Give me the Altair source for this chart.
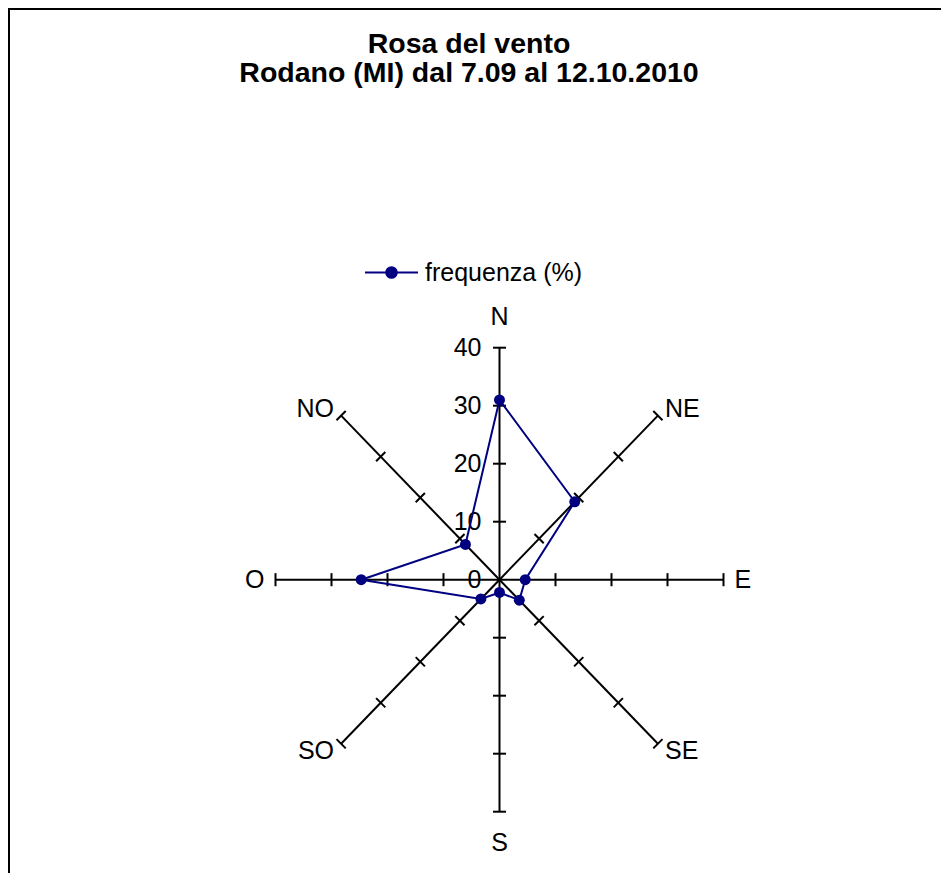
import altair as alt
import pandas as pd

# ---------------- data ----------------
DIRECTIONS = ["N", "NE", "E", "SE", "S", "SO", "O", "NO"]
ANGLES = [0, 45, 90, 135, 180, 225, 270, 315]
FREQUENZA = [31.0, 19.0, 4.6, 5.0, 2.2, 4.7, 24.7, 8.6]
AXIS_MAX = 40
TICK_VALUES = [10, 20, 30, 40]
AXIS_LABELS = [0, 10, 20, 30, 40]
SERIES = "frequenza (%)"
TITLE_LINES = ["Rosa del vento", "Rodano (MI) dal 7.09 al 12.10.2010"]

# ---------------- layout ----------------
W, H = 933, 865
CX, CY = 491.5, 571.7       # centre of the rose in chart pixels
PXX, PXY = 5.6, 5.8         # pixels per unit (x, y)
FONT = "Liberation Sans"
NAVY = "#000080"

xscale = alt.Scale(domain=[-CX / PXX, (W - CX) / PXX], nice=False, zero=False)
yscale = alt.Scale(domain=[-(H - CY) / PXY, CY / PXY], nice=False, zero=False)

# series table (closed polygon)
n = len(DIRECTIONS)
series_df = pd.DataFrame({
    "dir": DIRECTIONS + [DIRECTIONS[0]],
    "ang": ANGLES + [ANGLES[0]],
    "val": FREQUENZA + [FREQUENZA[0]],
    "ord": list(range(n + 1)),
    "serie": [SERIES] * (n + 1),
})
spoke_df = pd.DataFrame({"dir": DIRECTIONS, "ang": ANGLES})
tick_df = pd.DataFrame([{"ang": a, "r": r} for a in ANGLES for r in TICK_VALUES])
lab_df = pd.DataFrame({"v": AXIS_LABELS})

RAD = "PI/180"

def X(field):
    return alt.X(field, type="quantitative", scale=xscale, axis=None)

def Y(field):
    return alt.Y(field, type="quantitative", scale=yscale, axis=None)

# spokes
spokes = alt.Chart(spoke_df).transform_calculate(
    x0="0", y0="0",
    xe=f"{AXIS_MAX}*sin(datum.ang*{RAD})",
    ye=f"{AXIS_MAX}*cos(datum.ang*{RAD})",
).mark_rule(color="black", strokeWidth=2).encode(
    x=X("x0"), y=Y("y0"), x2="xe:Q", y2="ye:Q"
)

# tick marks (perpendicular to each spoke)
ticks = alt.Chart(tick_df).transform_calculate(
    tx=f"datum.r*sin(datum.ang*{RAD})",
    ty=f"datum.r*cos(datum.ang*{RAD})",
).mark_point(shape="stroke", color="black", strokeWidth=2, size=170,
             filled=False, opacity=1).encode(
    x=X("tx"), y=Y("ty"), angle=alt.Angle("ang:Q", scale=None)
)

# value labels along N axis
vlabels = alt.Chart(lab_df).mark_text(
    align="right", baseline="middle", dx=-18, fontSize=25, font=FONT, color="black"
).encode(x=alt.X(datum=0, type="quantitative", scale=xscale, axis=None),
         y=Y("v"), text=alt.Text("v:Q", format="d"))

# direction labels
dir_base = alt.Chart(spoke_df).transform_calculate(
    s=f"sin(datum.ang*{RAD})", c=f"cos(datum.ang*{RAD})"
).transform_calculate(
    k="abs(datum.s)<0.1 ? 31 : (abs(datum.c)<0.1 ? 11 : 10)"
).transform_calculate(
    lx=f"{AXIS_MAX}*datum.s + datum.k*datum.s/{PXX}",
    ly=f"{AXIS_MAX}*datum.c + datum.k*datum.c/{PXY}",
)
def dir_layer(cond, align):
    return dir_base.transform_filter(cond).mark_text(
        align=align, baseline="middle", fontSize=25, font=FONT, color="black"
    ).encode(x=X("lx"), y=Y("ly"), text="dir:N")

dlabels = [
    dir_layer("datum.s > 0.1", "left"),
    dir_layer("datum.s < -0.1", "right"),
    dir_layer("abs(datum.s) <= 0.1", "center"),
]

# data polygon
sdata = alt.Chart(series_df).transform_calculate(
    px=f"datum.val*sin(datum.ang*{RAD})",
    py=f"datum.val*cos(datum.ang*{RAD})",
)
line = sdata.mark_line(color=NAVY, strokeWidth=2).encode(
    x=X("px"), y=Y("py"), order="ord:Q"
)
LEGEND_SYMBOL = ("M-1,0L1,0M-0.2,0A0.2,0.2,0,1,1,0.2,0"
                 "A0.2,0.2,0,1,1,-0.2,0Z")
points = sdata.transform_filter(f"datum.ord < {n}").mark_point(
    filled=True, size=120, opacity=1
).encode(
    x=X("px"), y=Y("py"),
    color=alt.Color("serie:N", scale=alt.Scale(domain=[SERIES], range=[NAVY]),
                    legend=alt.Legend(
                        title=None, orient="none", legendX=356, legendY=237,
                        symbolType=LEGEND_SYMBOL, symbolSize=2809,
                        symbolStrokeWidth=2, symbolStrokeColor=NAVY,
                        symbolFillColor=NAVY, symbolOpacity=1,
                        labelFontSize=25, labelFont=FONT, labelColor="black",
                        labelOffset=6, padding=0)),
)

# title (two lines)
title_df = pd.DataFrame({"t": TITLE_LINES, "i": [0, 1]})
title = alt.Chart(title_df).transform_calculate(
    ty="45 + datum.i*29"
).mark_text(align="center", baseline="alphabetic", fontSize=28.5,
            fontWeight="bold", font=FONT, color="black").encode(
    x=alt.value(461), y=alt.Y("ty:Q", scale=None), text="t:N"
)

# outer frame (top and left edges visible)
frame_df = pd.DataFrame({"f": [0]})
frame_top = alt.Chart(frame_df).mark_rule(color="black", strokeWidth=2).encode(
    x=alt.value(0), x2=alt.value(W), y=alt.value(1))
frame_left = alt.Chart(frame_df).mark_rule(color="black", strokeWidth=2).encode(
    x=alt.value(1), y=alt.value(0), y2=alt.value(H))

chart = alt.layer(
    frame_top, frame_left, title, spokes, ticks, vlabels, *dlabels, line, points
).properties(
    width=W, height=H, autosize="none", padding=0, background="white"
).configure_view(stroke=None)

chart.save("out.html", embed_options={"renderer": "svg", "actions": False})
